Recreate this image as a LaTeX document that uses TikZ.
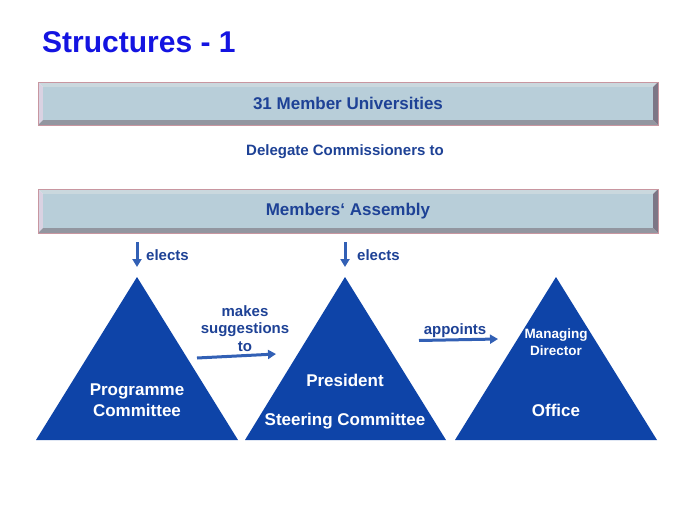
\documentclass[tikz,border=0pt]{standalone}
\usepackage{fontspec}
\setmainfont{Liberation Sans}
\usetikzlibrary{arrows.meta}
\definecolor{triblue}{RGB}{14,68,168}
\definecolor{txtblue}{RGB}{30,66,150}
\definecolor{titleblue}{RGB}{20,20,225}
\definecolor{barfill}{RGB}{184,206,217}
\definecolor{bevlight}{RGB}{202,216,222}
\definecolor{bevleft}{RGB}{218,210,226}
\definecolor{bevdark}{RGB}{146,150,160}
\definecolor{bevright}{RGB}{124,118,134}
\definecolor{barline}{RGB}{200,150,160}
\newcommand\mybar[5]{%
  \fill[bevlight] (#1,#2) -- (#3,#2) -- (#3-#5,#2+#5) -- (#1+#5,#2+#5) -- cycle;
  \fill[bevleft] (#1,#2) -- (#1+#5,#2+#5) -- (#1+#5,#4-#5) -- (#1,#4) -- cycle;
  \fill[bevdark] (#1,#4) -- (#1+#5,#4-#5) -- (#3-#5,#4-#5) -- (#3,#4) -- cycle;
  \fill[bevright] (#3,#2) -- (#3,#4) -- (#3-#5,#4-#5) -- (#3-#5,#2+#5) -- cycle;
  \fill[barfill] (#1+#5,#2+#5) rectangle (#3-#5,#4-#5);
  \draw[barline, line width=0.7pt] (#1,#2) rectangle (#3,#4);
}
\tikzset{
  bartext/.style={font=\bfseries\fontsize{17}{20}\selectfont, text=txtblue},
  lbl/.style={font=\bfseries\fontsize{15}{17.5}\selectfont, text=txtblue, align=center, inner sep=0pt},
  tritext/.style={font=\bfseries\fontsize{17}{21}\selectfont, text=white, align=center, inner sep=0pt},
  smalltri/.style={font=\bfseries\fontsize{13.5}{17}\selectfont, text=white, align=center, inner sep=0pt},
  arr/.style={draw=triblue!85!white, line width=3pt, -{Triangle[length=8pt,width=9pt]}},
  tri/.style={fill=triblue, draw=none},
}
\begin{document}
\begin{tikzpicture}[x=1pt,y=-1pt]
\useasboundingbox[fill=white] (0,0) rectangle (689,517);
% title
\node[anchor=west, inner sep=0pt, font=\bfseries\fontsize{30}{34}\selectfont, text=titleblue] (title) at (42,42) {Structures - 1};
% bars
\mybar{38}{82}{658}{125}{5}
\node[bartext] (univ) at (348,103.5) {31 Member Universities};
\node[lbl] (deleg) at (345,152) {Delegate Commissioners to};
\mybar{38}{189}{658}{233}{5}
\node[bartext] (assembly) at (348,211) {Members‘ Assembly};
% triangles
\coordinate (t1apex) at (137,277);
\coordinate (t2apex) at (345,277);
\coordinate (t3apex) at (556,277);
\fill[tri] (t1apex) -- (238,440) -- (36,440) -- cycle;
\fill[tri] (t2apex) -- (446,440) -- (245,440) -- cycle;
\fill[tri] (t3apex) -- (657,440) -- (455,440) -- cycle;
\node[tritext] (prog) at (137,400) {Programme\\Committee};
\node[tritext] (pres) at (345,380) {President};
\node[tritext] (steer) at (345,421) {Steering Committee};
\node[smalltri] (md) at (556,342.5) {Managing\\Director};
\node[tritext] (office) at (556,410) {Office};
% elects arrows
\coordinate (e1s) at (137,242);
\coordinate (e1e) at (137,267);
\coordinate (e2s) at (345,242);
\coordinate (e2e) at (345,267);
\draw[arr] (e1s) -- (e1e);
\draw[arr] (e2s) -- (e2e);
\node[lbl, anchor=west] (el1) at (146,255) {elects};
\node[lbl, anchor=west] (el2) at (357,255) {elects};
% makes suggestions
\coordinate (ms) at (197,358);
\coordinate (me) at (276,354);
\draw[arr] (ms) -- (me);
\node[lbl] (sugg) at (245,328.5) {makes\\suggestions\\to};
% appoints
\coordinate (as) at (419,340.5);
\coordinate (ae) at (498,339);
\draw[arr] (as) -- (ae);
\node[lbl] (app) at (455,331) {appoints};
\end{tikzpicture}
\end{document}
